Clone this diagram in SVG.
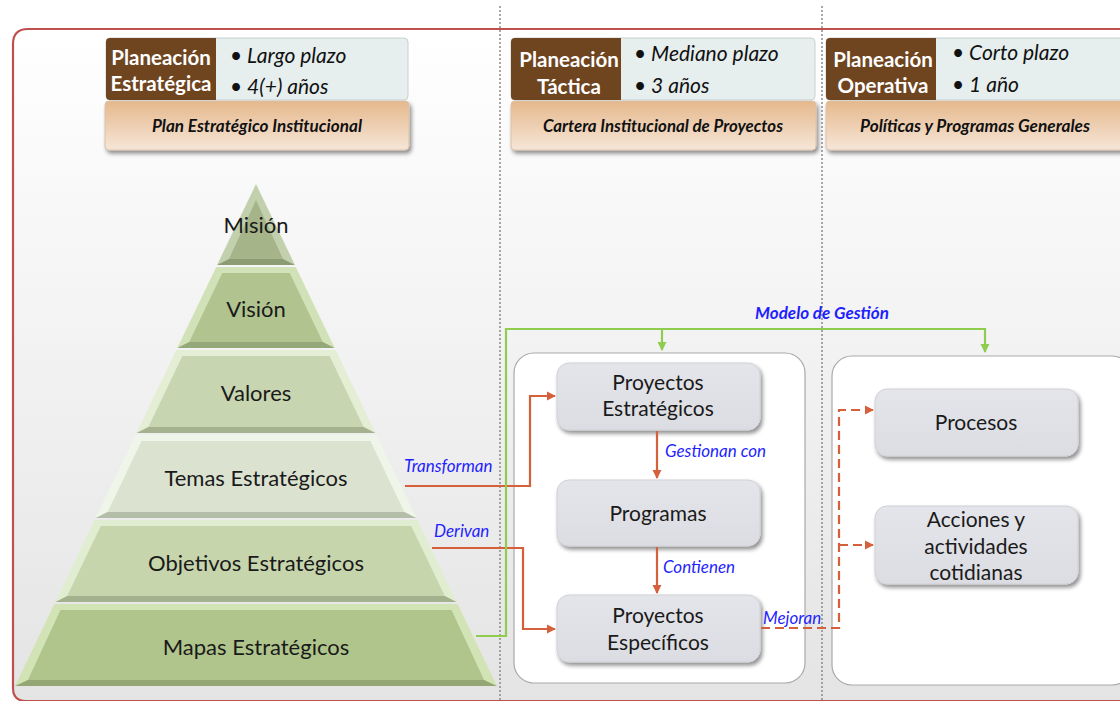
<svg xmlns="http://www.w3.org/2000/svg" width="1120" height="701" viewBox="0 0 1120 701">
<defs>
<linearGradient id="bg" x1="0" y1="0" x2="0" y2="1"><stop offset="0" stop-color="#ffffff"/><stop offset="1" stop-color="#e4e4e4"/></linearGradient>
<linearGradient id="tan" x1="0" y1="0" x2="0" y2="1"><stop offset="0" stop-color="#e5b88c"/><stop offset="1" stop-color="#f6e6d8"/></linearGradient>
<linearGradient id="box" x1="0" y1="0" x2="0" y2="1"><stop offset="0" stop-color="#e4e5ea"/><stop offset="1" stop-color="#dcdde2"/></linearGradient>
<filter id="sh" x="-10%" y="-10%" width="125%" height="140%"><feGaussianBlur in="SourceAlpha" stdDeviation="2"/><feOffset dx="2" dy="3"/><feComponentTransfer><feFuncA type="linear" slope="0.45"/></feComponentTransfer><feMerge><feMergeNode/><feMergeNode in="SourceGraphic"/></feMerge></filter>
<marker id="ar" viewBox="0 0 10 10" refX="9" refY="5" markerWidth="4.2" markerHeight="4.2" orient="auto"><path d="M0,0 L10,5 L0,10 z" fill="#d65f3c"/></marker>
<marker id="ag" viewBox="0 0 10 10" refX="9" refY="5" markerWidth="4.2" markerHeight="4.2" orient="auto"><path d="M0,0 L10,5 L0,10 z" fill="#8fcd4e"/></marker>
<style>
.hd{font-family:Lato,"Open Sans",sans-serif;font-weight:bold;font-size:20.5px;fill:#ffffff;text-anchor:middle}
.bl{font-family:Lato,"Open Sans",sans-serif;font-style:italic;font-size:21px;fill:#111}
.sub{font-family:Lato,"Open Sans",sans-serif;font-style:italic;font-weight:bold;font-size:16.5px;fill:#111;text-anchor:middle}
.py{font-family:Lato,"Open Sans",sans-serif;font-size:22px;fill:#1a1a1a;text-anchor:middle}
.bx{font-family:Lato,"Open Sans",sans-serif;font-size:21px;fill:#1a1a1a;text-anchor:middle}
.lb{font-family:Lato,"Open Sans",sans-serif;font-style:italic;font-size:17px;fill:#1f1fff}
.lbb{font-family:Lato,"Open Sans",sans-serif;font-style:italic;font-weight:bold;font-size:17px;fill:#1f1fff;text-anchor:middle}
.brown{fill:#6f451f}
.light{fill:#e6eeee;stroke:#c9d0d0;stroke-width:1}
.tanb{fill:url(#tan);stroke:#d9c2aa;stroke-width:1}
.ib{fill:url(#box);stroke:#d0d1d6;stroke-width:1}
.panel{fill:#ffffff;stroke:#a9a9a9;stroke-width:1.2}
.red{fill:none;stroke:#d65f3c;stroke-width:2.2}
.grn{fill:none;stroke:#8fcd4e;stroke-width:2.2}
.dot{stroke:#8a8a8a;stroke-width:1.5;stroke-dasharray:2 2}
.hi{fill:#eef5e2}
</style>
</defs>
<rect width="1120" height="701" fill="#ffffff"/>
<g id="frame">
<path d="M1122,29 L28,29 Q13,29 13,44 L13,688 Q13,701 26,701 L1122,701" fill="url(#bg)" stroke="#c0504d" stroke-width="2.2"/>
</g>
<g id="dividers">
<line x1="500" y1="6" x2="500" y2="701" class="dot"/>
<line x1="822" y1="6" x2="822" y2="701" class="dot"/>
</g>
<g id="hdr-estrategica">
<rect x="105" y="101" width="304" height="49" rx="4" class="tanb" filter="url(#sh)"/>
<rect x="106" y="38" width="302" height="62" rx="4" class="light"/>
<path d="M110,38 H216 V100 H110 Q106,100 106,96 V42 Q106,38 110,38 z" class="brown"/>
<text x="161" y="65" class="hd">Planeación</text>
<text x="161" y="91" class="hd">Estratégica</text>
<text x="230" y="63" class="bl">• Largo plazo</text>
<text x="230" y="94" class="bl">• 4(+) años</text>
<text x="257" y="132" class="sub" textLength="210" lengthAdjust="spacingAndGlyphs">Plan Estratégico Institucional</text>
</g>
<g id="hdr-tactica">
<rect x="511" y="101" width="305" height="49" rx="4" class="tanb" filter="url(#sh)"/>
<rect x="511" y="38" width="304" height="62" rx="4" class="light"/>
<path d="M515,38 H621 V100 H515 Q511,100 511,96 V42 Q511,38 515,38 z" class="brown"/>
<text x="569" y="67" class="hd">Planeación</text>
<text x="569" y="94" class="hd">Táctica</text>
<text x="634" y="61" class="bl">• Mediano plazo</text>
<text x="634" y="93" class="bl">• 3 años</text>
<text x="663" y="132" class="sub" textLength="240" lengthAdjust="spacingAndGlyphs">Cartera Institucional de Proyectos</text>
</g>
<g id="hdr-operativa">
<rect x="826" y="101" width="300" height="49" rx="4" class="tanb" filter="url(#sh)"/>
<rect x="826" y="38" width="300" height="62" rx="4" class="light"/>
<path d="M830,38 H936 V100 H830 Q826,100 826,96 V42 Q826,38 830,38 z" class="brown"/>
<text x="883" y="67" class="hd">Planeación</text>
<text x="883" y="93" class="hd">Operativa</text>
<text x="952" y="60" class="bl">• Corto plazo</text>
<text x="952" y="92" class="bl">• 1 año</text>
<text x="975" y="132" class="sub" textLength="230" lengthAdjust="spacingAndGlyphs">Políticas y Programas Generales</text>
</g>
<g id="pyramid">
<g id="p-mision">
<polygon points="256,184 294.9,265 217.1,265" fill="#c3d0ad"/>
<polygon points="217.1,265 294.9,265 283,259 229,259" fill="#8c9c72"/>
<polygon points="256,200 283,259 229,259" fill="#a5b489"/>
<text x="256" y="233" class="py">Misión</text>
</g>
<g id="p-vision">
<polygon points="216.2,267 295.8,267 334.7,348 177.3,348" fill="#d2e2b8"/>
<polygon points="177.3,348 334.7,348 322.8,342 189.2,342" fill="#95a87a"/>
<polygon points="222.3,273 289.7,273 322.8,342 189.2,342" fill="#b1c48f"/>
<text x="256" y="317" class="py">Visión</text>
</g>
<g id="p-valores">
<polygon points="176.3,350 335.7,350 375.5,433 136.5,433" fill="#e3eed5"/>
<polygon points="136.5,433 375.5,433 363.6,427 148.4,427" fill="#a4b28f"/>
<polygon points="182.4,356 329.6,356 363.6,427 148.4,427" fill="#c7d5b0"/>
<text x="256" y="401" class="py">Valores</text>
</g>
<g id="p-temas">
<polygon points="135.5,435 376.5,435 416.3,518 95.7,518" fill="#eff5e8"/>
<polygon points="95.7,518 416.3,518 404.4,512 107.6,512" fill="#b3bda8"/>
<polygon points="141.6,441 370.4,441 404.4,512 107.6,512" fill="#dbe3d0"/>
<text x="256" y="486" class="py">Temas Estratégicos</text>
</g>
<g id="p-objetivos">
<polygon points="94.7,520 417.3,520 456.6,602 55.4,602" fill="#e1edd0"/>
<polygon points="55.4,602 456.6,602 444.8,596 67.2,596" fill="#a3b18c"/>
<polygon points="100.8,526 411.2,526 444.8,596 67.2,596" fill="#c7d5ad"/>
<text x="256" y="571" class="py">Objetivos Estratégicos</text>
</g>
<g id="p-mapas">
<polygon points="54.4,604 457.6,604 497,686 15,686" fill="#d2e3b6"/>
<polygon points="15,686 497,686 484.1,680 27.9,680" fill="#93a674"/>
<polygon points="60.5,610 451.5,610 484.1,680 27.9,680" fill="#b0c58b"/>
<text x="256" y="655" class="py">Mapas Estratégicos</text>
</g>
</g>
<g id="panel-tactica">
<rect x="514" y="353" width="291" height="330" rx="20" class="panel"/>
</g>
<g id="panel-operativa">
<rect x="832" y="356" width="300" height="329" rx="20" class="panel"/>
</g>
<g id="n-proy-estrategicos">
<rect x="557" y="363" width="203" height="67" rx="12" class="ib" filter="url(#sh)"/>
<text x="658" y="390" class="bx">Proyectos</text>
<text x="658" y="416" class="bx">Estratégicos</text>
</g>
<g id="n-programas">
<rect x="557" y="480" width="203" height="66" rx="12" class="ib" filter="url(#sh)"/>
<text x="658" y="521" class="bx">Programas</text>
</g>
<g id="n-proy-especificos">
<rect x="557" y="595" width="203" height="67" rx="12" class="ib" filter="url(#sh)"/>
<text x="658" y="623" class="bx">Proyectos</text>
<text x="658" y="650" class="bx">Específicos</text>
</g>
<g id="n-procesos">
<rect x="875" y="389" width="203" height="67" rx="12" class="ib" filter="url(#sh)"/>
<text x="976" y="430" class="bx">Procesos</text>
</g>
<g id="n-acciones">
<rect x="875" y="506" width="203" height="78" rx="12" class="ib" filter="url(#sh)"/>
<text x="976" y="527" class="bx">Acciones y</text>
<text x="976" y="554" class="bx">actividades</text>
<text x="976" y="580" class="bx">cotidianas</text>
</g>
<g id="connectors">
<polyline points="405,486 530,486 530,396 555,396" class="red" marker-end="url(#ar)"/>
<polyline points="432,548 523,548 523,629 555,629" class="red" marker-end="url(#ar)"/>
<line x1="657" y1="431" x2="657" y2="478" class="red" marker-end="url(#ar)"/>
<line x1="657" y1="547" x2="657" y2="593" class="red" marker-end="url(#ar)"/>
<polyline points="761,628 839,628 839,410 873,410" class="red" stroke-dasharray="9 5" marker-end="url(#ar)"/>
<polyline points="839,545 873,545" class="red" stroke-dasharray="9 5" marker-end="url(#ar)"/>
<polyline points="476,636 506,636 506,329 985,329 985,352" class="grn" marker-end="url(#ag)"/>
<line x1="662" y1="329" x2="662" y2="350" class="grn" marker-end="url(#ag)"/>
<text x="404" y="472" class="lb">Transforman</text>
<text x="434" y="537" class="lb">Derivan</text>
<text x="665" y="457" class="lb">Gestionan con</text>
<text x="663" y="573" class="lb">Contienen</text>
<text x="763" y="624" class="lb">Mejoran</text>
<text x="822" y="319" class="lbb">Modelo de Gestión</text>
</g>
</svg>
